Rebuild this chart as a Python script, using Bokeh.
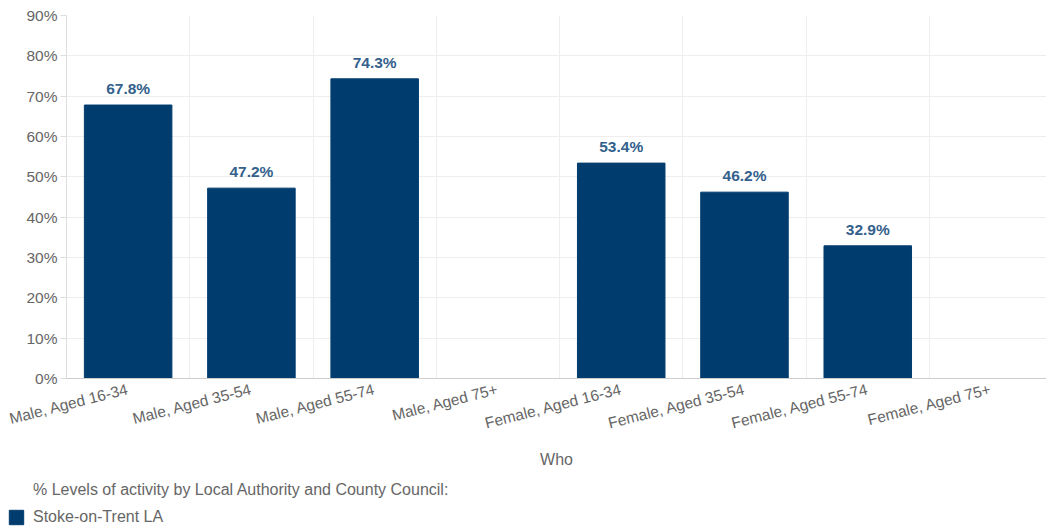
from bokeh.plotting import figure
from bokeh.layouts import column
from bokeh.models import (ColumnDataSource, FixedTicker, PrintfTickFormatter, Range1d,
                          Legend, LegendItem)
from bokeh.core.properties import value
from bokeh.embed import file_html
from bokeh.resources import INLINE

categories = ["Male, Aged 16-34", "Male, Aged 35-54", "Male, Aged 55-74", "Male, Aged 75+",
              "Female, Aged 16-34", "Female, Aged 35-54", "Female, Aged 55-74", "Female, Aged 75+"]
values = [67.8, 47.2, 74.3, None, 53.4, 46.2, 32.9, None]
series_name = "Stoke-on-Trent LA"
legend_title = "% Levels of activity by Local Authority and County Council:"
x_title = "Who"
y_ticks = [0, 10, 20, 30, 40, 50, 60, 70, 80, 90]

FONT = "Liberation Sans"
BAR = "#003d6e"
GREY = "#666666"
FS = "15.5px"

xs = [i + 0.5 for i in range(len(categories))]
bx = [x for x, v in zip(xs, values) if v is not None]
bv = [v for v in values if v is not None]
src = ColumnDataSource(dict(x=bx, top=bv, lab=[f"{v:.1f}%" for v in bv]))

p = figure(width=1046, height=470, output_backend="svg", toolbar_location=None,
           x_range=Range1d(0, 7.95), y_range=Range1d(0, 90),
           min_border_left=66, min_border_right=0, min_border_top=15, min_border_bottom=92)
p.outline_line_color = None

r = p.vbar(x="x", top="top", width=0.71, source=src, color=BAR, line_color=BAR)
p.text(x="x", y="top", text="lab", source=src, text_align="center", text_baseline="bottom",
       y_offset=-8, text_font=value(FONT), text_font_size=FS, text_font_style="bold",
       text_color="#34618c")

# x axis
p.xaxis.ticker = FixedTicker(ticks=xs)
p.xaxis.major_label_overrides = {x: c for x, c in zip(xs, categories)}
p.xaxis.major_label_orientation = 0.25
p.xaxis.major_tick_line_color = None
p.xaxis.minor_tick_line_color = None
p.xaxis.axis_line_color = "#cccccc"
p.xaxis.major_label_text_font = FONT
p.xaxis.major_label_text_font_size = FS
p.xaxis.major_label_text_color = GREY
p.xaxis.major_label_standoff = 4
p.xaxis.axis_label = x_title
p.xaxis.axis_label_text_font = FONT
p.xaxis.axis_label_text_font_size = "16px"
p.xaxis.axis_label_text_font_style = "normal"
p.xaxis.axis_label_text_color = GREY
p.xaxis.axis_label_standoff = 8

# y axis
p.yaxis.ticker = FixedTicker(ticks=y_ticks)
p.yaxis.formatter = PrintfTickFormatter(format="%d%%")
p.yaxis.axis_line_color = "#dddddd"
p.yaxis.major_tick_line_color = "#dddddd"
p.yaxis.major_tick_out = 6
p.yaxis.major_tick_in = 0
p.yaxis.minor_tick_line_color = None
p.yaxis.major_label_text_font = FONT
p.yaxis.major_label_text_font_size = FS
p.yaxis.major_label_text_color = GREY
p.yaxis.major_label_standoff = 3

p.xgrid.ticker = FixedTicker(ticks=list(range(1, len(categories) + 1)))
p.xgrid.grid_line_color = "#eeeeee"
p.ygrid.grid_line_color = "#eeeeee"

# legend strip (own small figure, frame covering the whole strip)
q = figure(width=1046, height=58, output_backend="svg", toolbar_location=None,
           x_range=Range1d(0, 1046), y_range=Range1d(0, 58),
           x_axis_type=None, y_axis_type=None, min_border=0)
q.outline_line_color = None
q.xgrid.visible = False
q.ygrid.visible = False
for fig in (p, q):
    try:
        fig.frame_align = False
    except Exception:
        pass

blank = q.vbar(x=[], top=[], width=1, color=BAR)
swatch = q.vbar(x=[-100], top=[-100], width=1, color=BAR, line_color=BAR)
leg = Legend(items=[LegendItem(label=legend_title, renderers=[blank]),
                    LegendItem(label=series_name, renderers=[swatch])],
             location=(7, 2), orientation="vertical",
             glyph_width=18, glyph_height=18, label_height=18, spacing=9,
             label_text_font=FONT, label_text_font_size="16px", label_text_color=GREY,
             label_text_baseline="middle",
             border_line_color=None, background_fill_alpha=0, padding=0, margin=0,
             label_standoff=8)
q.add_layout(leg, "center")

layout = column(p, q, spacing=0)
open("out.html", "w").write(file_html(layout, INLINE))
